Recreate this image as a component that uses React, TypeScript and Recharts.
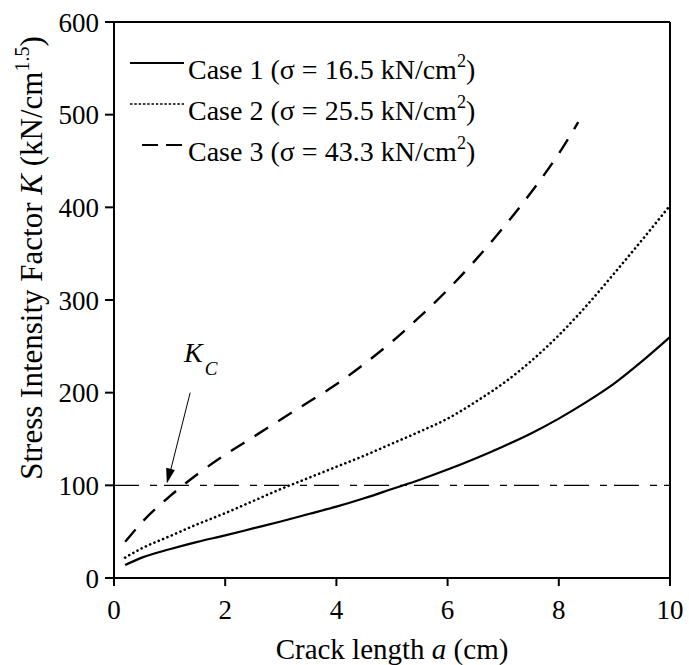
import {
  LineChart,
  Line,
  XAxis,
  YAxis,
  ReferenceLine,
  ReferenceDot,
  Legend,
  Label,
} from "recharts";

// crack length a (cm) and stress intensity factor K (kN/cm^1.5)
const crackLength = [0.2, 0.5, 1, 1.5, 2, 2.5, 3, 3.5, 4, 4.5, 5, 5.5, 6, 6.5, 7, 7.5, 8, 8.5, 9, 9.5, 10];
const case1K = [14, 22, 31, 39, 46, 53.5, 61, 69, 77, 86, 96, 106, 117, 129, 142, 156, 172, 190, 210, 234, 260];
const case2K = [22, 32, 45, 58, 70, 83, 96, 108, 120, 132, 145, 158, 172, 190, 210, 234, 262, 294, 329, 365, 402];

const crackLength3 = [0.2, 0.5, 1, 1.5, 2, 2.5, 3, 3.5, 4, 4.5, 5, 5.5, 6, 6.5, 7, 7.5, 8, 8.35];
const case3K = [39, 60, 88, 112, 133, 152, 171, 190, 209, 231, 255, 282, 311, 343, 378, 416, 458, 492];

const criticalK = 100;

const xTicks = [0, 2, 4, 6, 8, 10];
const yTicks = [0, 100, 200, 300, 400, 500, 600];

const legendRows = [
  { name: "Case 1", stress: "16.5", dash: "", x1: 0, width: 2 },
  { name: "Case 2", stress: "25.5", dash: "2.5 1.8", x1: 0, width: 1.6 },
  { name: "Case 3", stress: "43.3", dash: "16 8", x1: 12, width: 2 },
];

const toPoints = (a: number[], k: number[]) => a.map((x, i) => ({ a: x, k: k[i] }));

const case1 = toPoints(crackLength, case1K);
const case2 = toPoints(crackLength, case2K);
const case3 = toPoints(crackLength3, case3K);

const FONT = '"Liberation Serif", "Times New Roman", serif';

const tickStyle = { fontSize: 27, fill: "#000", fontFamily: FONT };

const renderLegend = () => (
  <div style={{ fontFamily: FONT, fontSize: 28, color: "#000" }}>
    {legendRows.map((row) => (
      <div
        key={row.name}
        style={{ display: "flex", alignItems: "center", height: 41, lineHeight: 1 }}
      >
        <svg width={58} height={41} style={{ display: "block" }}>
          <line
            x1={row.x1}
            y1={16}
            x2={54}
            y2={16}
            stroke="#000"
            strokeWidth={row.width}
            strokeDasharray={row.dash || undefined}
          />
        </svg>
        <span style={{ whiteSpace: "nowrap" }}>
          {row.name} (σ = {row.stress} kN/cm
          <span style={{ fontSize: "0.65em", verticalAlign: "0.65em" }}>2</span>)
        </span>
      </div>
    ))}
  </div>
);

const YTitle = ({ viewBox }: any) => {
  const x = viewBox.x + 42;
  const y = 258;
  return (
    <text
      transform={`translate(${x}, ${y}) rotate(-90)`}
      textAnchor="middle"
      fontFamily={FONT}
      fontSize={31}
      fill="#000"
    >
      Stress Intensity Factor <tspan fontStyle="italic">K</tspan> (kN/cm
      <tspan fontSize={20} dy={-13}>1.5</tspan>
      <tspan dy={13}>)</tspan>
    </text>
  );
};

const XTitle = ({ viewBox }: any) => (
  <text
    x={viewBox.x + viewBox.width / 2}
    y={viewBox.y + 81}
    textAnchor="middle"
    fontFamily={FONT}
    fontSize={29}
    fill="#000"
  >
    Crack length <tspan fontStyle="italic">a</tspan> (cm)
  </text>
);

// arrowhead pointing down-left along the K_C pointer
const ArrowHead = ({ cx, cy }: any) => (
  <polygon
    points="0,0 -15,-4.5 -15,4.5"
    fill="#000"
    transform={`translate(${cx}, ${cy}) rotate(104.3)`}
  />
);

const KcText = ({ cx, cy }: any) => (
  <text x={cx} y={cy} fontFamily={FONT} fill="#000" fontStyle="italic">
    <tspan fontSize={28}>K</tspan>
    <tspan fontSize={19} dx={2} dy={13}>C</tspan>
  </text>
);

const App = () => {
  return (
    <div style={{ position: "absolute", left: 0, top: 0, background: "#fff" }}>
      <LineChart
        width={689}
        height={665}
        margin={{ top: 22, right: 19, bottom: 0, left: 0 }}
        style={{ fontFamily: FONT }}
      >
        <XAxis
          type="number"
          dataKey="a"
          domain={[0, 10]}
          ticks={xTicks}
          height={87}
          axisLine={{ stroke: "#000", strokeWidth: 2 }}
          tickLine={{ stroke: "#000", strokeWidth: 2 }}
          tickSize={8}
          tickMargin={14}
          tick={tickStyle}
        >
          <Label content={<XTitle />} />
        </XAxis>
        <YAxis
          type="number"
          domain={[0, 600]}
          ticks={yTicks}
          width={114}
          axisLine={{ stroke: "#000", strokeWidth: 2 }}
          tickLine={{ stroke: "#000", strokeWidth: 2 }}
          tickSize={9}
          tickMargin={6}
          tick={tickStyle}
        >
          <Label content={<YTitle />} />
        </YAxis>

        <ReferenceLine y={600} stroke="#000" strokeWidth={2} />
        <ReferenceLine x={10} stroke="#000" strokeWidth={2} />

        <ReferenceLine
          y={criticalK}
          stroke="#000"
          strokeWidth={1.3}
          strokeDasharray="25 11 7 7"
        />

        <Line
          data={case1}
          dataKey="k"
          type="monotone"
          stroke="#000"
          strokeWidth={2.2}
          dot={false}
          isAnimationActive={false}
          legendType="none"
        />
        <Line
          data={case2}
          dataKey="k"
          type="monotone"
          stroke="#000"
          strokeWidth={2.6}
          strokeDasharray="0.1 4.6"
          strokeLinecap="round"
          dot={false}
          isAnimationActive={false}
          legendType="none"
        />
        <Line
          data={case3}
          dataKey="k"
          type="monotone"
          stroke="#000"
          strokeWidth={2.4}
          strokeDasharray="16 12"
          dot={false}
          isAnimationActive={false}
          legendType="none"
        />

        {/* K_C pointer */}
        <ReferenceLine
          segment={[
            { x: 1.37, y: 200 },
            { x: 1.0, y: 112 },
          ]}
          stroke="#000"
          strokeWidth={1}
        />
        <ReferenceDot x={0.95} y={102} r={0} shape={<ArrowHead />} />
        <ReferenceDot x={1.26} y={233} r={0} shape={<KcText />} />

        <Legend
          layout="vertical"
          align="center"
          verticalAlign="middle"
          content={renderLegend}
          wrapperStyle={{ left: 130, top: 47, width: "auto" }}
        />
      </LineChart>
    </div>
  );
};

export default App;
